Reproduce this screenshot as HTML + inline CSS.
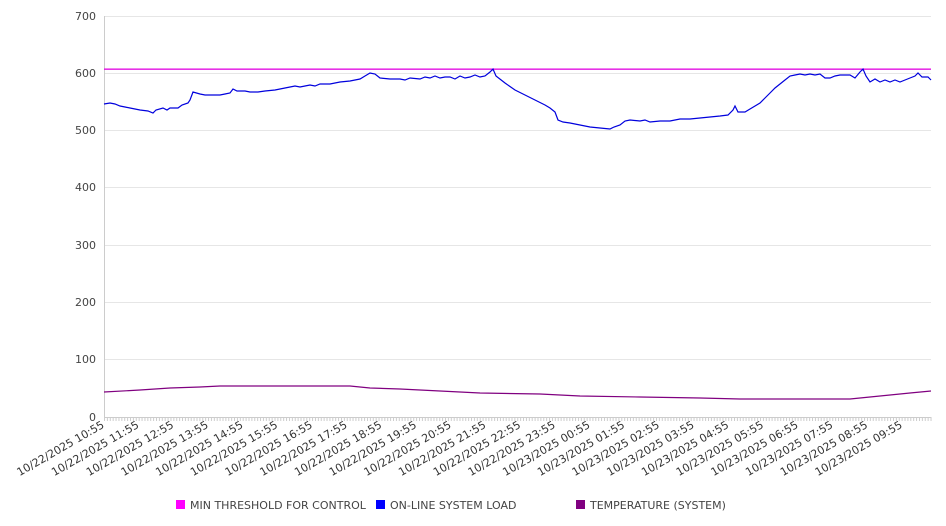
<!DOCTYPE html>
<html><head><meta charset="utf-8"><style>
html,body{margin:0;padding:0;background:#fff;}
svg{display:block;font-family:"DejaVu Sans","Liberation Sans",sans-serif;}
</style></head><body>
<svg width="946" height="526" viewBox="0 0 946 526" xmlns="http://www.w3.org/2000/svg">
<defs>
<pattern id="tk" x="104" y="417" width="2.89" height="5" patternUnits="userSpaceOnUse">
<rect x="0" y="0" width="1" height="5" fill="#ccc"/>
</pattern>
</defs>
<g stroke="#e6e6e6" stroke-width="1">
<line x1="104" y1="16.5" x2="931" y2="16.5"/>
<line x1="104" y1="73.5" x2="931" y2="73.5"/>
<line x1="104" y1="130.5" x2="931" y2="130.5"/>
<line x1="104" y1="187.5" x2="931" y2="187.5"/>
<line x1="104" y1="245.5" x2="931" y2="245.5"/>
<line x1="104" y1="302.5" x2="931" y2="302.5"/>
<line x1="104" y1="359.5" x2="931" y2="359.5"/>
</g>
<line x1="104.5" y1="16" x2="104.5" y2="417" stroke="#ccc"/>
<line x1="104" y1="417.5" x2="931" y2="417.5" stroke="#ccc"/>
<rect x="104" y="417" width="828" height="4" fill="url(#tk)"/>
<g font-size="11" fill="#444" text-anchor="end">
<text x="96" y="20">700</text><text x="96" y="77">600</text><text x="96" y="134">500</text>
<text x="96" y="191">400</text><text x="96" y="249">300</text><text x="96" y="306">200</text>
<text x="96" y="363">100</text><text x="96" y="421">0</text>
</g>
<g font-size="11" fill="#333" text-anchor="end">
<text transform="translate(105,427) rotate(-30)">10/22/2025 10:55</text>
<text transform="translate(139.7,427) rotate(-30)">10/22/2025 11:55</text>
<text transform="translate(174.4,427) rotate(-30)">10/22/2025 12:55</text>
<text transform="translate(209.1,427) rotate(-30)">10/22/2025 13:55</text>
<text transform="translate(243.8,427) rotate(-30)">10/22/2025 14:55</text>
<text transform="translate(278.5,427) rotate(-30)">10/22/2025 15:55</text>
<text transform="translate(313.2,427) rotate(-30)">10/22/2025 16:55</text>
<text transform="translate(347.9,427) rotate(-30)">10/22/2025 17:55</text>
<text transform="translate(382.6,427) rotate(-30)">10/22/2025 18:55</text>
<text transform="translate(417.3,427) rotate(-30)">10/22/2025 19:55</text>
<text transform="translate(452,427) rotate(-30)">10/22/2025 20:55</text>
<text transform="translate(486.7,427) rotate(-30)">10/22/2025 21:55</text>
<text transform="translate(521.4,427) rotate(-30)">10/22/2025 22:55</text>
<text transform="translate(556.1,427) rotate(-30)">10/22/2025 23:55</text>
<text transform="translate(590.8,427) rotate(-30)">10/23/2025 00:55</text>
<text transform="translate(625.5,427) rotate(-30)">10/23/2025 01:55</text>
<text transform="translate(660.2,427) rotate(-30)">10/23/2025 02:55</text>
<text transform="translate(694.9,427) rotate(-30)">10/23/2025 03:55</text>
<text transform="translate(729.6,427) rotate(-30)">10/23/2025 04:55</text>
<text transform="translate(764.3,427) rotate(-30)">10/23/2025 05:55</text>
<text transform="translate(799,427) rotate(-30)">10/23/2025 06:55</text>
<text transform="translate(833.7,427) rotate(-30)">10/23/2025 07:55</text>
<text transform="translate(868.4,427) rotate(-30)">10/23/2025 08:55</text>
<text transform="translate(903.1,427) rotate(-30)">10/23/2025 09:55</text>
</g>
<rect x="104" y="68.5" width="827" height="1.3" fill="#e000e0"/>
<polyline fill="none" stroke="#0000dd" stroke-width="1.2" points="104,104 110,103 115,104 120,106 125,107 130,108 140,110 148,111 153,113 156,110 163,108 167,110 170,108 178,108 182,105 188,103 190,100 193,92 200,94 205,95 220,95 225,94 230,93 233,89 237,91 245,91 250,92 258,92 265,91 275,90 285,88 295,86 300,87 305,86 310,85 315,86 320,84 330,84 340,82 350,81 360,79 365,76 370,73 375,74 380,78 390,79 400,79 405,80 410,78 420,79 425,77 430,78 435,76 440,78 445,77 450,77 455,79 460,76 465,78 470,77 475,75 480,77 485,76 490,72 493,69 496,76 505,83 515,90 525,95 535,100 545,105 550,108 555,112 558,120 563,122 570,123 580,125 590,127 600,128 610,129 614,127 620,125 625,121 630,120 640,121 645,120 650,122 660,121 670,121 680,119 690,119 700,118 710,117 720,116 728,115 733,110 735,106 738,112 745,112 750,109 760,103 765,98 770,93 775,88 780,84 785,80 790,76 795,75 800,74 805,75 810,74 815,75 820,74 825,78 830,78 835,76 840,75 845,75 850,75 855,78 860,72 863,69 866,76 870,82 875,79 880,82 885,80 890,82 895,80 900,82 905,80 910,78 915,76 918,73 922,77 928,77 931,80"/>
<polyline fill="none" stroke="#800080" stroke-width="1.2" points="104,392 140,390 170,388 200,387 220,386 260,386 300,386 350,386 370,388 400,389 440,391 480,393 540,394 580,396 640,397 700,398 740,399 800,399 850,399 870,397 890,395 910,393 931,391"/>
<g font-size="11" fill="#444">
<rect x="176" y="500" width="9" height="9" fill="#ff00ff"/><text x="190" y="509">MIN THRESHOLD FOR CONTROL</text>
<rect x="376" y="500" width="9" height="9" fill="#0000ff"/><text x="390" y="509">ON-LINE SYSTEM LOAD</text>
<rect x="576" y="500" width="9" height="9" fill="#800080"/><text x="590" y="509">TEMPERATURE (SYSTEM)</text>
</g>
</svg>
</body></html>
